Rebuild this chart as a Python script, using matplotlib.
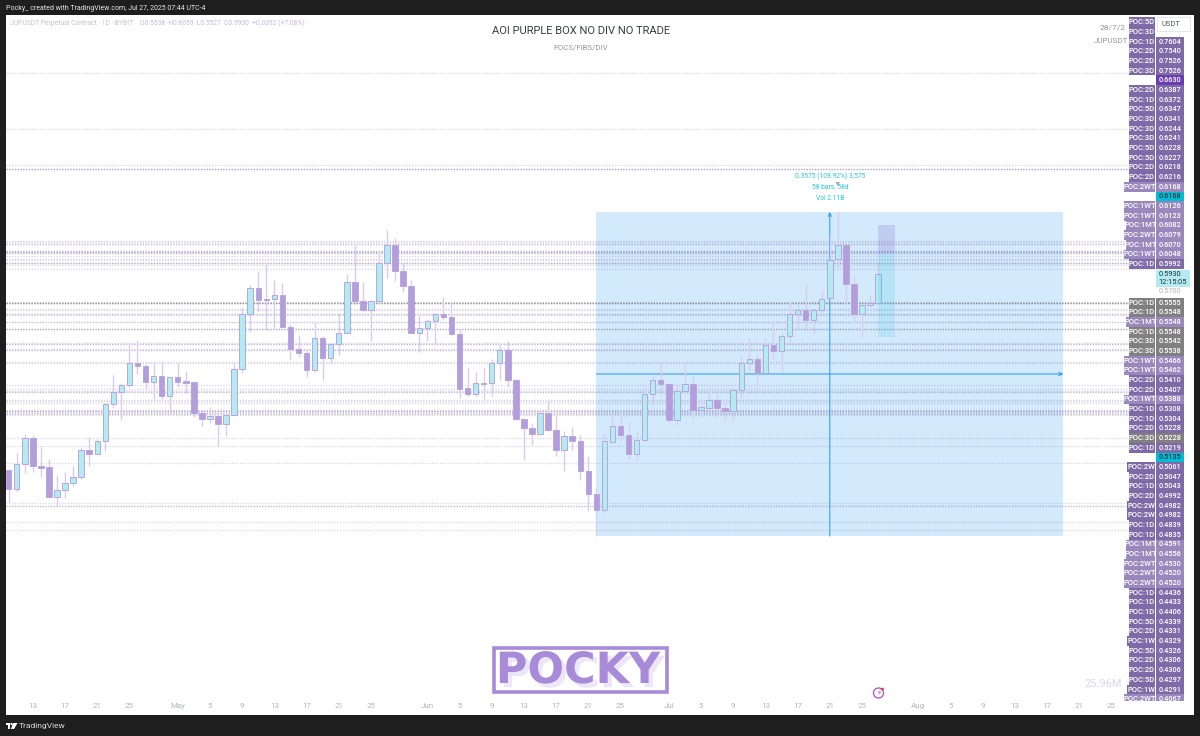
import matplotlib
matplotlib.use("Agg")
import matplotlib.pyplot as plt
import matplotlib.dates as mdates
import matplotlib.patheffects as pe
from matplotlib.patches import Rectangle, Circle, Polygon
from matplotlib.ticker import NullLocator
import pandas as pd

plt.rcParams['font.family'] = ['Roboto', 'DejaVu Sans']

START = "2025-04-10"
body_tops = [.3783,.3832,.4068,.4068,.3821,.3806,.3617,.3670,.3727,.3960,
             .3960,.4040,.4397,.4526,.4592,.4829,.4829,.4796,.4691,.4691,
             .4677,.4677,.4634,.4623,.4311,.4278,.4278,.4291,.4763,.5406,
             .5733,.5733,.5595,.5642,.5642,.5248,.4987,.4941,.5121,.5121,
             .5048,.5181,.5812,.5812,.5565,.5565,.6071,.6326,.6326,.5964,
             .5764,.5232,.5324,.5406,.5406,.5373,.5161,.4560,.4613,.4616,
             .4836,.4983,.4983,.4648,.4252,.4162,.4307,.4307,.4146,.4092,
             .4092,.4046,.3777,.3581,.4043,.4181,.4181,.4098,.4049,.4499,
             .4645,.4645,.4603,.4536,.4603,.4603,.4366,.4443,.4443,.4356,
             .4540,.4837,.4881,.4881,.5033,.5033,.5141,.5407,.5452,.5452,
             .5452,.5599,.6117,.6325,.6325,.5787,.5515,.5540,.5930]
body_bottoms = [.3622,.3622,.3832,.3818,.3803,.3555,.3555,.3617,.3670,.3727,
                .3924,.3924,.4040,.4397,.4526,.4592,.4796,.4630,.4630,.4478,
                .4478,.4630,.4620,.4314,.4252,.4249,.4207,.4207,.4291,.4763,
                .5406,.5586,.5582,.5590,.5252,.4987,.4941,.4756,.4756,.4885,
                .4885,.5048,.5181,.5565,.5452,.5452,.5565,.6071,.5964,.5764,
                .5181,.5181,.5232,.5324,.5373,.5165,.4557,.4498,.4498,.4610,
                .4613,.4836,.4648,.4252,.4162,.4108,.4108,.4146,.3960,.3960,
                .4046,.3777,.3581,.3452,.3452,.4037,.4098,.3927,.3927,.4049,
                .4499,.4603,.4242,.4245,.4536,.4340,.4337,.4360,.4356,.4330,
                .4330,.4540,.4837,.4720,.4720,.4972,.4972,.5141,.5407,.5332,
                .5332,.5452,.5603,.6126,.5787,.5407,.5407,.5515,.5538]
directions = ("DUUDDDUUUU" "DUUUUUDDUD" "UDDDDUDUUU" "UDDUDDDDUD" "UUUDDUUUDD"
              "DUUUDDDDUD" "UUDDDDUDDU" "DDDDUUDDUU" "UDDUUDUUDD" "UUUDUDUUUD" "UUUUDDUUU")
highs = [.3783,.3945,.4108,.4096,.3984,.3880,.3738,.3763,.3818,.3984,.4077,.4065,.4413,.4698,.4613,.5055,.5094,.4822,.4848,.4855,
         .4684,.4836,.4749,.4641,.4340,.4367,.4314,.4314,.4840,.5490,.5781,.5964,.6062,.5847,.5799,.5284,.5149,.4971,.5304,.5137,
         .5063,.5423,.5924,.6331,.5817,.5582,.6244,.6552,.6433,.6080,.5838,.5381,.5340,.5423,.5617,.5540,.5220,.4785,.4734,.4778,
         .4873,.5036,.5086,.4655,.4252,.4210,.4340,.4440,.4291,.4140,.4172,.4098,.3907,.3631,.4108,.4301,.4333,.4229,.4137,.4571,
         .4691,.4837,.4613,.4606,.4837,.4677,.4447,.4571,.4503,.4406,.4561,.4912,.5114,.4922,.5133,.5308,.5173,.5561,.5540,.5771,
         .5477,.5711,.6477,.6827,.6325,.5896,.5515,.5643,.6059]
lows = [.3505,.3600,.3761,.3763,.3727,.3549,.3484,.3546,.3648,.3709,.3821,.3924,.3954,.4363,.4242,.4578,.4713,.4553,.4447,.4450,
        .4307,.4578,.4516,.4275,.4188,.4216,.3996,.4089,.4291,.4727,.5188,.5448,.5212,.5228,.5244,.4866,.4904,.4684,.4734,.4648,
        .4829,.4926,.5181,.5532,.5444,.5086,.5540,.5875,.5834,.5689,.5173,.4956,.5079,.5048,.5332,.5157,.4457,.4485,.4485,.4450,
        .4485,.4648,.4578,.4242,.3871,.4002,.4096,.4140,.3907,.3777,.3960,.3698,.3442,.3252,.3434,.4028,.4046,.3880,.3871,.4037,
        .4390,.4482,.4210,.4197,.4516,.4274,.4274,.4353,.4274,.4236,.4236,.4461,.4742,.4561,.4720,.4881,.4738,.5067,.5212,.5212,
        .5173,.5436,.5603,.6010,.5540,.5292,.5125,.5490,.5527]

tick_dates = ["2025-04-13","2025-04-17","2025-04-21","2025-04-25","2025-05-01","2025-05-05","2025-05-09","2025-05-13",
              "2025-05-17","2025-05-21","2025-05-25","2025-06-01","2025-06-05","2025-06-09","2025-06-13","2025-06-17",
              "2025-06-21","2025-06-25","2025-07-01","2025-07-05","2025-07-09","2025-07-13","2025-07-17","2025-07-21",
              "2025-07-25","2025-08-01","2025-08-05","2025-08-09","2025-08-13","2025-08-17","2025-08-21","2025-08-25"]
tick_labels = ["13","17","21","25","May","5","9","13","17","21","25","Jun","5","9","13","17","21","25",
               "Jul","5","9","13","17","21","25","Aug","5","9","13","17","21","25"]

# labelled price levels, upper and lower stack of the price scale
upper_names = ["5D","3D","1D","2D","2D","3D","","2D","1D","5D","3D","3D","3D","5D","5D","2D","2D","2WT","","1WT","1WT","1MT","2WT","1MT","1WT","1D"]
upper_values = [.9390,.8255,.7604,.7540,.7526,.7526,.6630,.6387,.6372,.6347,.6341,.6244,.6241,.6228,.6227,.6218,.6216,.6168,.6168,
                .6126,.6123,.6082,.6079,.6070,.6048,.5992]
upper_hidden_rows = [0, 1]  # their prices sit under the USDT button
lower_names = ["1D","1D","1MT","1D","3D","3D","1WT","1WT","2D","2D","1WT","1D","1D","2D","3D","1D","","2W","2D","1D","2D","2W","2W",
               "1D","1D","1MT","1MT","2WT","2WT","2WT","1D","1D","1D","5D","2D","1W","5D","2D","2D","5D","1W","2WT"]
lower_values = [.5555,.5548,.5548,.5548,.5542,.5538,.5466,.5462,.5410,.5407,.5388,.5308,.5304,.5228,.5228,.5219,.5135,.5061,.5047,
                .5043,.4992,.4982,.4982,.4839,.4835,.4591,.4556,.4530,.4520,.4520,.4436,.4433,.4406,.4339,.4331,.4329,.4326,.4306,
                .4306,.4297,.4291,.4067]
lower_gray_rows = [0,1,3,4,5,14]
extra_levels = [.3999,.3843,.3505,.3486,.3486,.3362,.3295]  # levels whose labels are below the visible stack

measure_low, measure_high = .3252, .6827
measure_mid = .4713
measure_start, measure_end, measure_x = "2025-06-22", "2025-08-19", "2025-07-21"
pos_top, pos_mid, pos_bottom = .6630, .6210, .5135
pos_start, pos_end = "2025-07-27", "2025-07-29"

PURPLE = "#b39ddb"; CYAN = "#b2ebf2"; WICK = "#d8cdee"

fig = plt.figure(figsize=(12, 7.36), dpi=100, facecolor="#1e1e1e")
fig.add_artist(Rectangle((6/1200, 1-715/736), 1188/1200, 700/736, transform=fig.transFigure, fc="white", ec="none", zorder=-5))
ax = fig.add_axes([6/1200, 1-702/736, 1150/1200, 687/736], facecolor="none")

x = mdates.date2num(pd.date_range(START, periods=len(body_tops), freq="D"))
d = lambda s: mdates.date2num(pd.Timestamp(s))
ax.set_yscale("log")
ax.set_xlim(x[0]-0.335, x[0]+142.52)
ax.set_ylim(.2225, 1.0716)
ax.yaxis.set_major_locator(NullLocator()); ax.yaxis.set_minor_locator(NullLocator())
ax.set_xticks([d(t) for t in tick_dates], tick_labels)
ax.tick_params(axis="x", length=0, pad=0.5, labelsize=5.8, labelcolor="#b2b5be")
for s in ax.spines.values():
    s.set_visible(False)

# measure box
ax.add_patch(Rectangle((d(measure_start), measure_low), d(measure_end)-d(measure_start), measure_high-measure_low,
                       fc="#2196f3", alpha=0.2, ec="none", zorder=1))
# POC levels
purple_levels = [v for v, n in zip(upper_values, upper_names) if n]
purple_levels += [v for i, (v, n) in enumerate(zip(lower_values, lower_names)) if n and i not in lower_gray_rows]
purple_levels += extra_levels
gray_levels = [lower_values[i] for i in lower_gray_rows]
ax.hlines(purple_levels, *ax.get_xlim(), colors="#7e6aa6", alpha=0.24, linewidth=1, linestyles=(0, (1, 1)), zorder=2)
ax.hlines(gray_levels, *ax.get_xlim(), colors="#707070", alpha=0.22, linewidth=1, linestyles=(0, (1, 1)), zorder=2)
# measure arrows
arrow = dict(arrowstyle="->", color="#2196f3", lw=0.7, shrinkA=0, shrinkB=0, mutation_scale=6)
ax.annotate("", xy=(d(measure_end), measure_mid), xytext=(d(measure_start), measure_mid), arrowprops=arrow, zorder=2.5)
ax.annotate("", xy=(d(measure_x), measure_high), xytext=(d(measure_x), measure_low), arrowprops=arrow, zorder=2.5)
# candles
ax.vlines(x, lows, highs, colors=WICK, linewidth=1, zorder=3)
heights = [t-b for t, b in zip(body_tops, body_bottoms)]
colors = [CYAN if c == "U" else PURPLE for c in directions]
ax.bar(x, heights, bottom=body_bottoms, width=0.68, color=colors, edgecolor="#b9a6e0", linewidth=0.7, zorder=4)
# position overlay
ax.add_patch(Rectangle((d(pos_start), pos_mid), d(pos_end)-d(pos_start)+0.1, pos_top-pos_mid, fc="#673ab7", alpha=0.16, ec="none", zorder=5))
ax.add_patch(Rectangle((d(pos_start), pos_bottom), d(pos_end)-d(pos_start)+0.1, pos_mid-pos_bottom, fc="#00bcd4", alpha=0.13, ec="none", zorder=5))

# pixel-space overlay for annotations and the price-scale stacks
ov = fig.add_axes([0, 0, 1, 1], facecolor="none")
ov.set_xlim(0, 1200); ov.set_ylim(736, 0); ov.axis("off")

ov.text(6, 8, "Pocky_ created with TradingView.com, Jul 27, 2025 07:44 UTC-4", color="#e8e8e8", fontsize=5.0, va="center", ha="left")
ov.text(10, 23.5, "JUPUSDT Perpetual Contract · 1D · BYBIT", color="#c3c5cd", fontsize=4.85, va="center", ha="left")
ov.text(140, 23.5, "O0.5538  H0.6059  L0.5527  C0.5930  +0.0392 (+7.08%)", color="#c8b8e8", fontsize=4.9, va="center", ha="left")
ov.text(581, 31, "AOI PURPLE BOX NO DIV NO TRADE", color="#3a3d46", fontsize=8, va="center", ha="center")
ov.text(581, 47, "POCS/FIBS/DIV", color="#9598a1", fontsize=5.6, va="center", ha="center")
for yy, t in [(176, "0.3575 (109.92%) 3,575"), (187, "58 bars, 58d"), (199, "Vol 2.11B")]:
    ov.text(830, yy, t, color="#26c6da", fontsize=4.9, va="center", ha="center")
ov.add_patch(Polygon([[835.5, 182], [840, 182], [837.7, 186]], fc="#b39ddb", ec="none"))
ov.text(1126, 28, "28/7/2", color="#9598a1", fontsize=6, va="center", ha="right")
ov.text(1128, 41, "JUPUSDT", color="#9598a1", fontsize=5.8, va="center", ha="right")
ov.text(1122, 684, "25.96M", color="#dcd5f2", fontsize=8, va="center", ha="right")

def stack(names, values, y0, gray=(), hidden=()):
    for i, (n, v) in enumerate(zip(names, values)):
        yc = y0 + i*9.67
        fc = "#7e6aa6"
        if n.endswith(("WT", "MT")):
            fc = "#9a88bd"
        if i in gray:
            fc = "#808080"
        if not n:
            fc, tc = ("#6a3db3", "white") if v == pos_top else ("#00bcd4", "#1e3a40")
        else:
            tc = "white"
        if n:
            left = 1123.5 if n.endswith("WT") else 1125.5 if n.endswith("MT") else 1127 if n.endswith("W") else 1128.5
            ov.add_patch(Rectangle((left, yc-4.84), 1155.4-left, 9.68, fc=fc, ec="none"))
            ov.text((left+1155.4)/2, yc, "POC:"+n, color=tc, fontsize=5.5, fontweight="medium", va="center", ha="center")
        if i in hidden:
            continue
        ov.add_patch(Rectangle((1156.2, yc-4.84), 28, 9.68, fc=fc, ec="none"))
        ov.text(1170.2, yc, f"{v:.4f}", color=tc, fontsize=5.3, fontweight="medium", va="center", ha="center")

stack(upper_names, upper_values, 22.3, hidden=upper_hidden_rows)
stack(lower_names, lower_values, 302.7, gray=lower_gray_rows)

# current price box, next to it the muted level and the currency button
ov.add_patch(Rectangle((1156.2, 270), 34, 17, fc="#b2ebf2", ec="none"))
ov.text(1170, 274.5, "0.5930", color="#22343a", fontsize=5.3, va="center", ha="center")
ov.text(1173, 282.5, "12:15:05", color="#22343a", fontsize=5.3, va="center", ha="center")
ov.text(1170.2, 291.3, "0.5700", color="#b2b5be", fontsize=5.3, va="center", ha="center")
ov.add_patch(Rectangle((1120, 701), 74, 14, fc="white", ec="none", zorder=3))
ov.add_patch(Rectangle((1156.5, 17), 33, 14, fc="white", ec="#e0e3eb", lw=0.6, zorder=3))
ov.text(1171, 24.5, "USDT", color="#50535e", fontsize=5.4, va="center", ha="center", zorder=4)

# watermark
ov.add_patch(Rectangle((494, 648), 173, 44, fc="none", ec="#a78bd8", lw=2.6))
ov.text(578, 671, "POCKY", color="#a78bd8", fontsize=31, fontweight="bold", family="DejaVu Sans", va="center", ha="center",
        path_effects=[pe.withSimplePatchShadow(offset=(3, -3), shadow_rgbFace="#ece6f8", alpha=1)])
ov.add_patch(Circle((878.5, 693), 5, fc="none", ec="#a64fd0", lw=0.9))
ov.text(878.5, 693, "⚡", color="#a64fd0", fontsize=5, family="DejaVu Sans", va="center", ha="center")
ov.add_patch(Circle((882.5, 689), 1.4, fc="#f23645", ec="none"))

# footer
ov.add_patch(Rectangle((5.5, 723), 4.5, 2, fc="white", ec="none"))
ov.add_patch(Rectangle((7.5, 723), 2.2, 6, fc="white", ec="none"))
ov.add_patch(Circle((11.5, 724), 1.1, fc="white", ec="none"))
ov.add_patch(Polygon([[13, 723], [17.5, 723], [14, 729], [11, 729]], fc="white", ec="none"))
ov.text(19, 726, "TradingView", color="#d8d8d8", fontsize=6, va="center", ha="left")

fig.savefig("out.png", dpi=100, facecolor=fig.get_facecolor())
